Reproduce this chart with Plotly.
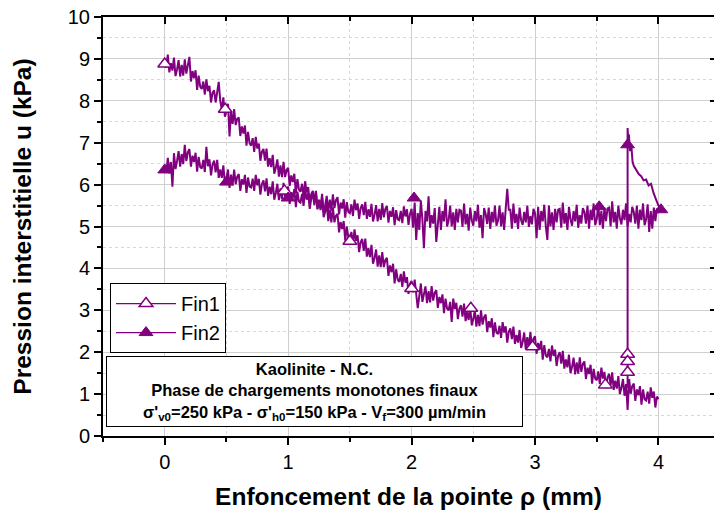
import plotly.graph_objects as go

# ---------------- data ----------------
depth_mm = [
    0.0000, 0.0125, 0.0250, 0.0375, 0.0500, 0.0625, 0.0750, 0.0875,
    0.1000, 0.1125, 0.1250, 0.1375, 0.1500, 0.1625, 0.1750, 0.1875,
    0.2000, 0.2125, 0.2250, 0.2375, 0.2500, 0.2625, 0.2750, 0.2875,
    0.3000, 0.3125, 0.3250, 0.3375, 0.3500, 0.3625, 0.3750, 0.3875,
    0.4000, 0.4125, 0.4250, 0.4375, 0.4500, 0.4625, 0.4750, 0.4875,
    0.5000, 0.5125, 0.5250, 0.5375, 0.5500, 0.5625, 0.5750, 0.5875,
    0.6000, 0.6125, 0.6250, 0.6375, 0.6500, 0.6625, 0.6750, 0.6875,
    0.7000, 0.7125, 0.7250, 0.7375, 0.7500, 0.7625, 0.7750, 0.7875,
    0.8000, 0.8125, 0.8250, 0.8375, 0.8500, 0.8625, 0.8750, 0.8875,
    0.9000, 0.9125, 0.9250, 0.9375, 0.9500, 0.9625, 0.9750, 0.9875,
    1.0000, 1.0125, 1.0250, 1.0375, 1.0500, 1.0625, 1.0750, 1.0875,
    1.1000, 1.1125, 1.1250, 1.1375, 1.1500, 1.1625, 1.1750, 1.1875,
    1.2000, 1.2125, 1.2250, 1.2375, 1.2500, 1.2625, 1.2750, 1.2875,
    1.3000, 1.3125, 1.3250, 1.3375, 1.3500, 1.3625, 1.3750, 1.3875,
    1.4000, 1.4125, 1.4250, 1.4375, 1.4500, 1.4625, 1.4750, 1.4875,
    1.5000, 1.5125, 1.5250, 1.5375, 1.5500, 1.5625, 1.5750, 1.5875,
    1.6000, 1.6125, 1.6250, 1.6375, 1.6500, 1.6625, 1.6750, 1.6875,
    1.7000, 1.7125, 1.7250, 1.7375, 1.7500, 1.7625, 1.7750, 1.7875,
    1.8000, 1.8125, 1.8250, 1.8375, 1.8500, 1.8625, 1.8750, 1.8875,
    1.9000, 1.9125, 1.9250, 1.9375, 1.9500, 1.9625, 1.9750, 1.9875,
    2.0000, 2.0125, 2.0250, 2.0375, 2.0500, 2.0625, 2.0750, 2.0875,
    2.1000, 2.1125, 2.1250, 2.1375, 2.1500, 2.1625, 2.1750, 2.1875,
    2.2000, 2.2125, 2.2250, 2.2375, 2.2500, 2.2625, 2.2750, 2.2875,
    2.3000, 2.3125, 2.3250, 2.3375, 2.3500, 2.3625, 2.3750, 2.3875,
    2.4000, 2.4125, 2.4250, 2.4375, 2.4500, 2.4625, 2.4750, 2.4875,
    2.5000, 2.5125, 2.5250, 2.5375, 2.5500, 2.5625, 2.5750, 2.5875,
    2.6000, 2.6125, 2.6250, 2.6375, 2.6500, 2.6625, 2.6750, 2.6875,
    2.7000, 2.7125, 2.7250, 2.7375, 2.7500, 2.7625, 2.7750, 2.7875,
    2.8000, 2.8125, 2.8250, 2.8375, 2.8500, 2.8625, 2.8750, 2.8875,
    2.9000, 2.9125, 2.9250, 2.9375, 2.9500, 2.9625, 2.9750, 2.9875,
    3.0000, 3.0125, 3.0250, 3.0375, 3.0500, 3.0625, 3.0750, 3.0875,
    3.1000, 3.1125, 3.1250, 3.1375, 3.1500, 3.1625, 3.1750, 3.1875,
    3.2000, 3.2125, 3.2250, 3.2375, 3.2500, 3.2625, 3.2750, 3.2875,
    3.3000, 3.3125, 3.3250, 3.3375, 3.3500, 3.3625, 3.3750, 3.3875,
    3.4000, 3.4125, 3.4250, 3.4375, 3.4500, 3.4625, 3.4750, 3.4875,
    3.5000, 3.5125, 3.5250, 3.5375, 3.5500, 3.5625, 3.5750, 3.5875,
    3.6000, 3.6125, 3.6250, 3.6375, 3.6500, 3.6625, 3.6750, 3.6875,
    3.7000, 3.7125, 3.7250, 3.7375, 3.7500, 3.7625, 3.7750, 3.7875,
    3.8000, 3.8125, 3.8250, 3.8375, 3.8500, 3.8625, 3.8750, 3.8875,
    3.9000, 3.9125, 3.9250, 3.9375, 3.9500, 3.9625, 3.9750, 3.9875,
    4.0000,
]

fin1_u = [
    8.88, 8.79, 9.10, 8.68, 8.90, 8.72, 9.03, 8.59,
    8.75, 8.97, 8.58, 8.86, 8.60, 8.99, 8.65, 8.83,
    9.05, 8.46, 8.71, 8.54, 8.73, 8.26, 8.60, 8.34,
    8.28, 8.46, 8.15, 8.51, 8.23, 8.36, 7.96, 8.19,
    8.25, 7.96, 8.25, 8.45, 8.00, 7.79, 8.08, 7.62,
    7.75, 7.93, 7.15, 7.75, 7.45, 7.80, 7.42, 7.57,
    7.60, 7.16, 7.39, 7.22, 7.41, 6.93, 7.26, 6.99,
    6.93, 7.11, 6.78, 7.14, 6.86, 6.98, 6.57, 6.79,
    6.85, 6.57, 6.86, 6.43, 6.63, 6.42, 6.71, 6.26,
    6.40, 6.60, 6.19, 6.46, 6.18, 6.54, 6.18, 6.35,
    6.40, 5.97, 6.22, 6.06, 6.26, 5.79, 6.13, 5.88,
    5.83, 6.02, 5.71, 6.08, 5.81, 5.94, 5.54, 5.78,
    5.85, 5.56, 5.85, 5.41, 5.60, 5.39, 5.68, 5.22,
    5.35, 5.54, 5.13, 5.39, 5.10, 5.46, 5.10, 5.26,
    5.30, 4.86, 5.11, 4.94, 5.13, 4.66, 5.00, 4.74,
    4.68, 4.87, 4.56, 4.93, 4.66, 4.79, 4.39, 4.63,
    4.70, 4.42, 4.71, 4.28, 4.48, 4.27, 4.56, 4.11,
    4.25, 4.45, 4.04, 4.31, 4.03, 4.39, 4.03, 4.20,
    4.25, 3.82, 4.07, 3.91, 4.11, 3.64, 3.98, 3.73,
    3.68, 3.87, 3.56, 3.93, 3.66, 3.79, 3.39, 3.63,
    3.70, 3.43, 3.73, 3.31, 3.05, 3.34, 3.64, 3.20,
    3.35, 3.57, 3.17, 3.46, 3.19, 3.58, 3.23, 3.42,
    3.48, 3.06, 3.32, 3.17, 3.38, 2.93, 3.28, 3.04,
    3.00, 3.20, 2.72, 3.28, 3.03, 3.18, 2.79, 3.04,
    3.12, 2.85, 3.16, 2.74, 2.96, 2.77, 3.07, 2.64,
    2.79, 3.00, 2.61, 2.89, 2.62, 3.00, 2.66, 2.84,
    2.90, 2.48, 2.74, 2.59, 2.81, 2.36, 2.71, 2.47,
    2.43, 2.63, 2.34, 2.72, 2.47, 2.62, 2.23, 2.49,
    2.57, 2.31, 2.61, 2.20, 2.41, 2.23, 2.53, 2.10,
    2.25, 2.47, 2.07, 2.36, 2.09, 2.48, 2.13, 2.32,
    2.38, 1.96, 2.22, 2.06, 2.27, 1.82, 2.17, 1.92,
    1.88, 2.08, 1.78, 2.16, 1.91, 2.06, 1.67, 1.92,
    2.00, 1.73, 2.03, 1.61, 1.83, 1.64, 1.94, 1.50,
    1.65, 1.87, 1.47, 1.76, 1.49, 1.88, 1.53, 1.72,
    1.78, 1.36, 1.63, 1.48, 1.70, 1.25, 1.60, 1.37,
    1.33, 1.54, 1.24, 1.63, 1.37, 1.53, 1.14, 1.40,
    1.48, 1.21, 1.52, 1.10, 1.32, 1.13, 1.43, 1.00,
    1.15, 1.36, 0.96, 1.24, 0.62, 1.36, 1.01, 1.19,
    1.25, 0.84, 1.11, 0.97, 1.19, 0.75, 1.11, 0.88,
    0.85, 1.06, 0.77, 1.16, 0.91, 1.06, 0.68, 0.94,
    0.88,
]

fin2_u = [
    6.35, 6.28, 6.64, 6.27, 6.54, 5.95, 6.75, 6.37,
    6.57, 6.80, 6.43, 6.73, 6.49, 6.95, 6.56, 6.77,
    6.85, 6.43, 6.69, 6.54, 6.76, 6.31, 6.66, 6.42,
    6.38, 6.59, 6.30, 6.90, 6.44, 6.60, 6.22, 6.48,
    6.57, 6.29, 6.59, 6.16, 6.36, 6.16, 6.46, 6.01,
    6.15, 6.36, 5.92, 6.24, 5.98, 6.36, 6.01, 6.19,
    6.25, 5.85, 6.13, 6.00, 6.23, 5.80, 6.17, 5.95,
    5.93, 6.14, 5.85, 6.23, 5.98, 6.14, 5.76, 6.01,
    6.10, 5.84, 6.15, 5.73, 5.95, 5.77, 6.08, 5.64,
    5.80, 6.02, 5.63, 5.91, 5.65, 6.04, 5.70, 5.88,
    5.95, 5.54, 5.82, 5.68, 5.90, 5.46, 5.83, 5.60,
    5.57, 5.78, 5.49, 5.88, 5.64, 5.80, 5.42, 5.68,
    5.77, 5.51, 5.83, 5.42, 5.64, 5.46, 5.78, 5.35,
    5.51, 5.73, 5.35, 5.64, 5.38, 5.77, 5.44, 5.63,
    5.70, 5.29, 5.57, 5.43, 5.65, 5.21, 5.58, 5.35,
    5.32, 5.53, 5.25, 5.64, 5.39, 5.55, 5.18, 5.44,
    5.53, 5.27, 5.59, 5.18, 5.41, 5.23, 5.54, 5.12,
    5.28, 5.51, 5.12, 5.42, 5.16, 5.56, 5.22, 5.42,
    5.49, 5.09, 5.37, 5.23, 5.46, 5.03, 5.39, 5.17,
    5.15, 5.37, 5.08, 5.48, 5.24, 5.41, 5.04, 5.30,
    5.42, 4.97, 5.57, 4.68, 5.32, 4.92, 5.62, 5.17,
    4.48, 5.37, 5.12, 5.72, 4.97, 5.27, 5.07, 5.44,
    4.63, 5.04, 5.47, 4.92, 5.37, 5.12, 5.65, 5.00,
    5.14, 5.50, 5.00, 5.34, 4.92, 5.42, 5.10, 5.40,
    5.38, 4.99, 5.55, 5.05, 5.30, 4.90, 5.45, 5.15,
    5.02, 5.37, 5.12, 5.52, 4.97, 5.27, 4.72, 5.44,
    5.30, 5.06, 5.45, 4.94, 5.35, 5.10, 5.50, 5.02,
    5.14, 5.50, 5.00, 5.34, 4.92, 5.42, 5.90, 5.40,
    5.40, 4.95, 5.55, 5.08, 5.30, 4.94, 5.45, 5.15,
    5.04, 5.35, 5.10, 5.50, 4.99, 5.25, 5.05, 5.42,
    5.32, 4.72, 5.47, 4.92, 5.37, 5.12, 5.52, 5.00,
    4.68, 5.50, 5.00, 5.34, 4.92, 5.42, 5.10, 5.40,
    5.42, 4.97, 5.57, 5.07, 5.32, 4.92, 5.47, 5.17,
    5.02, 5.37, 5.12, 5.52, 4.97, 5.27, 5.07, 5.44,
    5.35, 5.07, 5.50, 4.95, 5.40, 5.15, 5.55, 5.03,
    5.17, 5.53, 5.03, 5.37, 4.95, 5.45, 5.13, 5.43,
    5.45, 5.00, 5.60, 5.10, 5.35, 4.95, 5.50, 5.20,
    5.05, 5.40, 5.15, 5.55, 5.00, 5.30, 5.10, 5.47,
    5.35, 5.07, 5.50, 4.95, 5.40, 5.15, 5.55, 5.03,
    5.17, 5.53, 4.87, 5.37, 4.95, 5.45, 5.13, 5.43,
    5.32,
]

# Fin1: pause at 3.75 mm (pressure rise)
fin1_hold_x = [3.75, 3.75, 3.75, 3.75, 3.75]
fin1_hold_u = [1.15, 1.52, 1.78, 1.95, 5.25]

# Fin2: reloading branch after 3.75 mm
fin2_branch_x = [3.75, 3.75, 3.755, 3.76, 3.77, 3.78, 3.79, 3.80, 3.82, 3.84,
                 3.86, 3.88, 3.90, 3.92, 3.94, 3.96, 3.98, 4.00, 4.02]
fin2_branch_u = [5.25, 7.35, 7.05, 7.20, 6.80, 6.95, 6.55, 6.45, 6.35, 6.25,
                 6.20, 6.10, 6.12, 5.98, 6.02, 5.80, 5.65, 5.50, 5.40]

# symbol positions
fin1_mark_x = [0.0, 0.49, 0.97, 1.5, 2.0, 2.48, 2.98, 3.57, 3.75, 3.75, 3.75]
fin1_mark_u = [8.88, 7.80, 5.85, 4.65, 3.52, 3.05, 2.13, 1.22, 1.95, 1.78, 1.52]
fin2_mark_x = [0.0, 0.5, 1.0, 2.02, 3.52, 3.75, 4.02]
fin2_mark_u = [6.35, 6.06, 5.68, 5.68, 5.47, 6.95, 5.40]

series_names = ["Fin1", "Fin2"]
x_ticks = [0, 1, 2, 3, 4]
y_ticks = [0, 1, 2, 3, 4, 5, 6, 7, 8, 9, 10]

# ---------------- figure ----------------
PURPLE = "#800080"
fig = go.Figure()

fin1_x = depth_mm + [None] + fin1_hold_x
fin1_y = fin1_u + [None] + fin1_hold_u
fin2_x = depth_mm + [None] + fin2_branch_x
fin2_y = fin2_u + [None] + fin2_branch_u

fig.add_trace(go.Scatter(x=fin1_x, y=fin1_y, mode="lines",
                         line=dict(color=PURPLE, width=2),
                         showlegend=False, connectgaps=False))
fig.add_trace(go.Scatter(x=fin2_x, y=fin2_y, mode="lines",
                         line=dict(color=PURPLE, width=2),
                         showlegend=False, connectgaps=False))

open_marker = dict(symbol="triangle-up", size=12, color="white",
                   line=dict(color=PURPLE, width=1.5))
solid_marker = dict(symbol="triangle-up", size=12, color=PURPLE,
                    line=dict(color=PURPLE, width=1))

fig.add_trace(go.Scatter(x=fin1_mark_x, y=fin1_mark_u, mode="markers",
                         marker=open_marker, showlegend=False))
fig.add_trace(go.Scatter(x=fin2_mark_x, y=fin2_mark_u, mode="markers",
                         marker=solid_marker, showlegend=False))

# legend entries
fig.add_trace(go.Scatter(x=[None], y=[None], mode="lines+markers",
                         name=series_names[0],
                         line=dict(color=PURPLE, width=1.2), marker=open_marker))
fig.add_trace(go.Scatter(x=[None], y=[None], mode="lines+markers",
                         name=series_names[1],
                         line=dict(color=PURPLE, width=1.2), marker=solid_marker))

# helper trace for top/right mirrored axes
fig.add_trace(go.Scatter(x=[None], y=[None], xaxis="x2", yaxis="y2",
                         showlegend=False, hoverinfo="skip"))

XR = [-0.5, 4.45]
YR = [0, 10]
GRID = "#cfcfcf"
MINOR_GRID = "#d8d8d8"

fig.update_layout(
    width=714, height=518,
    margin=dict(l=103, r=0, t=17, b=82),
    paper_bgcolor="white", plot_bgcolor="white",
    font=dict(family="Arial, Liberation Sans, sans-serif", color="black"),
    xaxis=dict(
        range=XR, tickvals=x_ticks, ticktext=[str(v) for v in x_ticks],
        showline=True, linewidth=2, linecolor="black",
        ticks="outside", ticklen=7, tickwidth=2, tickcolor="black",
        tickfont=dict(size=20), ticklabeloverflow="allow",
        showgrid=True, gridcolor=GRID, gridwidth=1, zeroline=False,
        minor=dict(dtick=0.5, tick0=0, ticks="outside", ticklen=4, tickwidth=2,
                   tickcolor="black", showgrid=True, gridcolor=MINOR_GRID,
                   griddash="dot", gridwidth=1),
        title=dict(text="<b>Enfoncement de la pointe ρ (mm)</b>",
                   font=dict(size=24.5), standoff=16),
        automargin=False,
    ),
    yaxis=dict(
        range=YR, tickvals=y_ticks, ticktext=[str(v) for v in y_ticks],
        showline=True, linewidth=2, linecolor="black",
        ticks="outside", ticklen=7, tickwidth=2, tickcolor="black",
        tickfont=dict(size=20), ticklabeloverflow="allow",
        showgrid=True, gridcolor=GRID, gridwidth=1, zeroline=False,
        minor=dict(dtick=0.5, tick0=0, ticks="outside", ticklen=4, tickwidth=2,
                   tickcolor="black", showgrid=True, gridcolor=MINOR_GRID,
                   griddash="dot", gridwidth=1),
        title=dict(text="<b>Pression interstitielle u (kPa)</b>",
                   font=dict(size=24.5), standoff=29),
        automargin=False,
    ),
    xaxis2=dict(
        range=XR, overlaying="x", side="top", anchor="y2",
        tickvals=x_ticks, showticklabels=False,
        showline=True, linewidth=2, linecolor="black",
        ticks="inside", ticklen=7, tickwidth=2, tickcolor="black",
        showgrid=False, zeroline=False,
        minor=dict(dtick=0.5, tick0=0, ticks="inside", ticklen=4, tickwidth=2,
                   tickcolor="black", showgrid=False),
        automargin=False,
    ),
    yaxis2=dict(
        range=YR, overlaying="y", side="right", anchor="x2",
        tickvals=y_ticks, showticklabels=False,
        showline=False,
        ticks="inside", ticklen=4, tickwidth=2, tickcolor="black",
        showgrid=False, zeroline=False,
        automargin=False,
    ),
    legend=dict(
        x=0.0115, y=0.365, xanchor="left", yanchor="top",
        bgcolor="white", bordercolor="black", borderwidth=1,
        font=dict(size=20, color="black"),
        tracegroupgap=0, itemwidth=60,
    ),
    showlegend=True,
)

fig.add_annotation(
    xref="paper", yref="paper", x=0.0049, y=0.191,
    xanchor="left", yanchor="top",
    text=("<b>Kaolinite - N.C.<br>"
          "Phase de chargements monotones finaux<br>"
          "σ'<sub>v0</sub>=250 kPa - σ'<sub>h0</sub>=150 kPa - "
          "V<sub>f</sub>=300 µm/min</b>"),
    showarrow=False, align="center",
    font=dict(size=16.5, color="black"),
    bgcolor="white", bordercolor="black", borderwidth=1, borderpad=2,
    width=411, height=65,
)

fig.write_html("out.html",
               config={"displayModeBar": False},
               post_script="document.body.style.margin='0px';")
